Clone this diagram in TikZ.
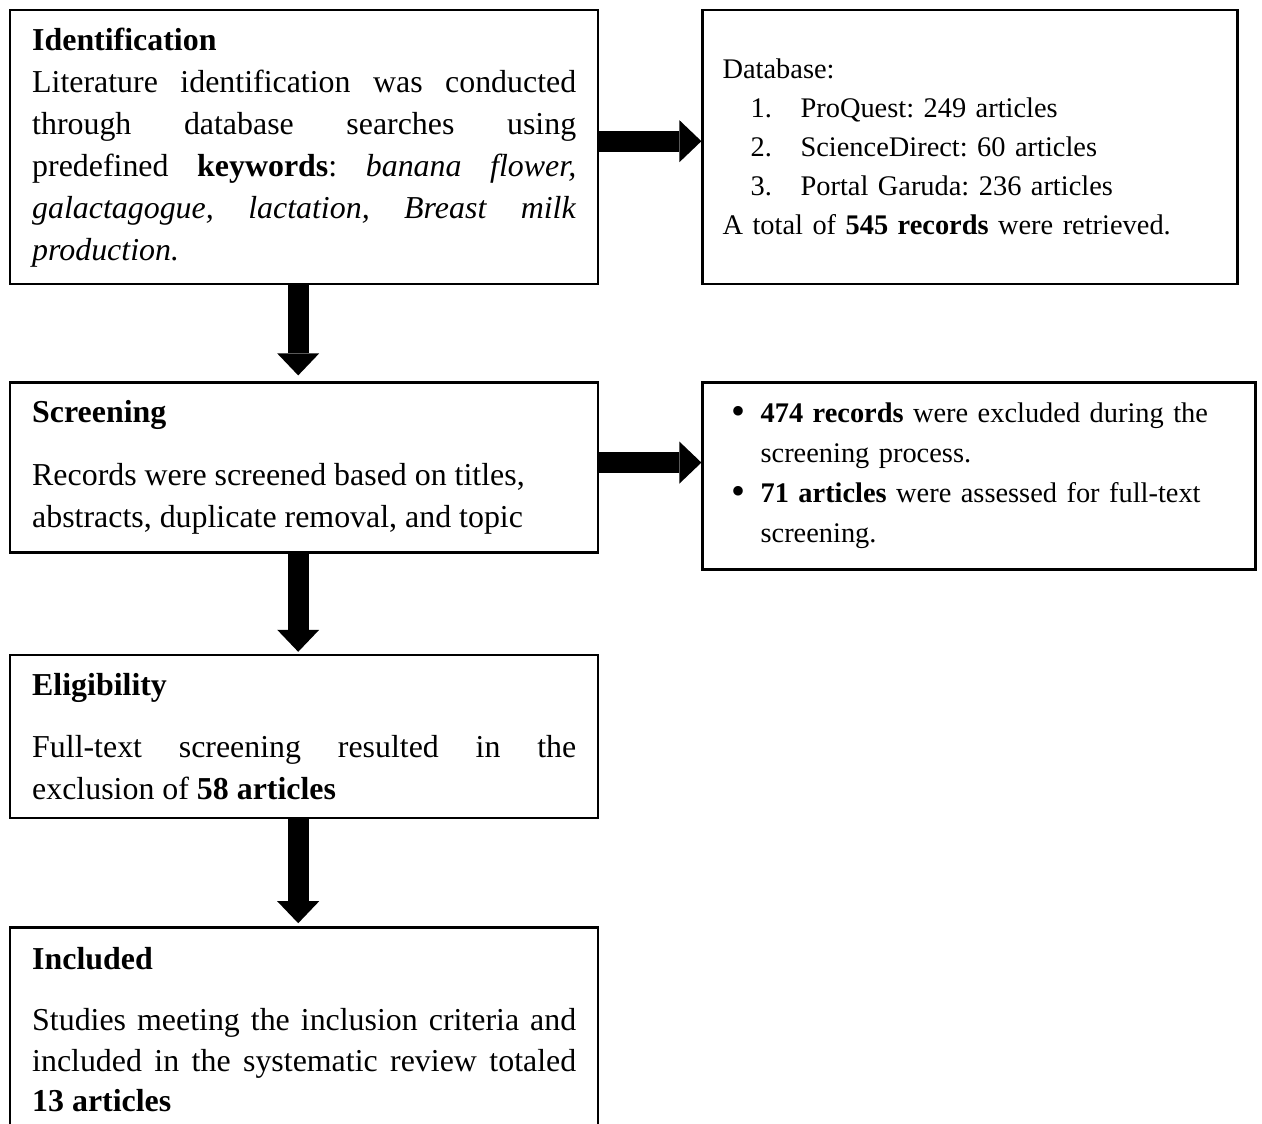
\documentclass[tikz,border=0pt]{standalone}
\usepackage{fontspec}
\setmainfont{Liberation Serif}
\usetikzlibrary{arrows.meta,positioning}
\tolerance=10000
\hbadness=10000
\frenchspacing

\begin{document}
\begin{tikzpicture}[
		x=1pt, y=-1pt,
		mainbox/.style={draw, line width=2.4pt, minimum width=588pt, text width=544pt, inner xsep=22pt, inner ysep=0pt, align=justify, font=\fontsize{31.9}{42}\selectfont},
		sidebox/.style={draw, line width=2.4pt, inner xsep=20pt, inner ysep=0pt, align=left},
		bigarrow/.style={line width=21pt, -{Triangle[length=22pt, width=42pt, line width=0pt]}},
	]
		\useasboundingbox (0,0) rectangle (1262,1124);
		\clip (0,0) rectangle (1262,1124);

		\node[mainbox, minimum height=274pt, anchor=north west] (ident) at (9,9) {\textbf{Identification}\\
			Literature identification was conducted\linebreak through database searches using\linebreak predefined \textbf{keywords}: \textit{banana flower,}\linebreak \textit{galactagogue, lactation, Breast milk}\linebreak \textit{production.}};
		\node[sidebox, minimum width=535pt, minimum height=274pt, text width=495pt, anchor=north west, font=\fontsize{28.4}{39}\selectfont] (db) at ([xshift=102pt]ident.north east) {Database:\\
			\hspace*{28pt}\makebox[50pt][l]{1.}ProQuest: 249 articles\\
			\hspace*{28pt}\makebox[50pt][l]{2.}ScienceDirect: 60 articles\\
			\hspace*{28pt}\makebox[50pt][l]{3.}Portal Garuda: 236 articles\\
			A total of \textbf{545 records} were retrieved.};

		\node[mainbox, minimum height=170pt, below=96pt of ident] (screen) {\textbf{Screening}\\[21pt]
			Records were screened based on titles,\\ abstracts, duplicate removal, and topic};
		\node[sidebox, minimum width=553pt, minimum height=187pt, text width=513pt, anchor=north west, font=\fontsize{28.4}{40}\selectfont] (excl) at ([xshift=102pt]screen.north east) {%
			\makebox[38pt][l]{\hspace{9pt}\raisebox{-2pt}{\fontsize{40}{40}\selectfont\textbullet}}\hangindent=38pt\textbf{474 records} were excluded during the screening process.\par
			\makebox[38pt][l]{\hspace{9pt}\raisebox{-2pt}{\fontsize{40}{40}\selectfont\textbullet}}\hangindent=38pt\textbf{71 articles} were assessed for full-text screening.\par};

		\node[mainbox, minimum height=163pt, below=100pt of screen] (elig) {\textbf{Eligibility}\\[20pt]
			Full-text screening resulted in the\linebreak exclusion of \textbf{58 articles}};

		\node[mainbox, minimum height=204pt, below=107pt of elig, font=\fontsize{31.9}{40.5}\selectfont] (incl) {\textbf{Included}\\[21pt]
			Studies meeting the inclusion criteria and\linebreak included in the systematic review totaled\linebreak \textbf{13 articles}};

		\draw[bigarrow] ([yshift=6pt]ident.east) -- ([yshift=6pt]ident.east -| db.west);
		\draw[bigarrow] ([yshift=5pt]screen.east) -- ([yshift=5pt]screen.east -| excl.west);
		\draw[bigarrow, shorten >=6pt] ([xshift=-6pt]ident.south) -- ([xshift=-6pt]screen.north);
		\draw[bigarrow, shorten >=2pt] ([xshift=-6pt]screen.south) -- ([xshift=-6pt]elig.north);
		\draw[bigarrow, shorten >=3pt] ([xshift=-6pt]elig.south) -- ([xshift=-6pt]incl.north);
	\end{tikzpicture}
\end{document}
